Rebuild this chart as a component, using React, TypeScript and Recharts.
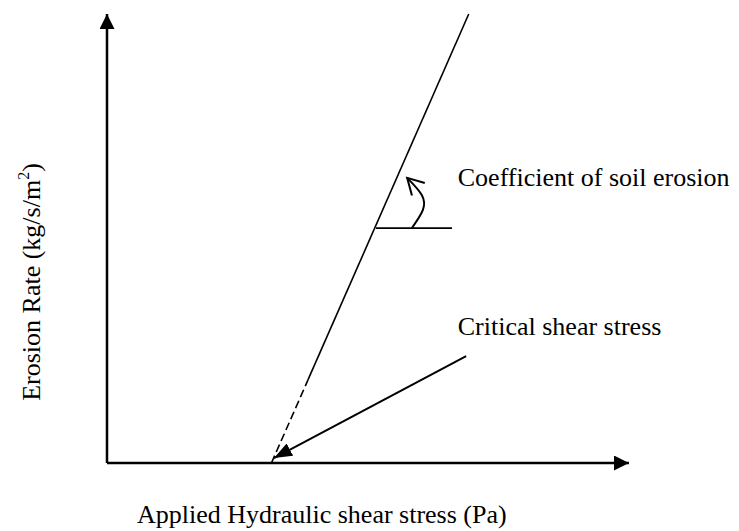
import { LineChart, Line, XAxis, YAxis, ReferenceDot } from "recharts";

const FONT = '"Liberation Serif", "Times New Roman", serif';
const INK = "#000000";

// schematic units: applied shear stress (x) against erosion rate (y)
const AXIS_X = [{ x: 0, y: 0 }, { x: 10, y: 0 }];
const AXIS_Y = [{ x: 0, y: 0 }, { x: 0, y: 10 }];
const EXTRAPOLATED = [{ x: 3.15, y: 0 }, { x: 3.85, y: 1.85 }];
const MEASURED = [{ x: 3.85, y: 1.85 }, { x: 6.93, y: 10 }];
const SLOPE_BASE = [{ x: 5.15, y: 5.23 }, { x: 6.61, y: 5.23 }];
const SLOPE_ARC = [
  { x: 5.84, y: 5.23 },
  { x: 6.05, y: 5.63 },
  { x: 6.03, y: 5.97 },
  { x: 5.75, y: 6.35 },
];
const CRITICAL_POINTER = [{ x: 6.88, y: 2.38 }, { x: 3.2, y: 0.11 }];
const NOTES = [
  { x: 6.72, y: 6.17, text: "Coefficient of soil erosion" },
  { x: 6.72, y: 2.85, text: "Critical shear stress" },
];
const X_TITLE = "Applied Hydraulic shear stress (Pa)";
const Y_TITLE = "Erosion Rate (kg/s/m";

function NoteText(props: any) {
  const { cx, cy, text } = props;
  return (
    <text x={cx} y={cy} fontFamily={FONT} fontSize={26} fill={INK}>
      {text}
    </text>
  );
}

function XTitle(props: any) {
  const vb = props.viewBox;
  return (
    <text x={vb.x + 30} y={vb.y + 60} fontFamily={FONT} fontSize={26} fill={INK}>
      {X_TITLE}
    </text>
  );
}

function YTitle(props: any) {
  const vb = props.viewBox;
  const cx = vb.x + 40;
  const cy = vb.y + 268;
  return (
    <text
      x={cx}
      y={cy}
      transform={`rotate(-90 ${cx} ${cy})`}
      textAnchor="middle"
      fontFamily={FONT}
      fontSize={26}
      fill={INK}
    >
      {Y_TITLE}
      <tspan dy={-11} fontSize={16}>2</tspan>
      <tspan dy={11}>)</tspan>
    </text>
  );
}

const lineProps = {
  dataKey: "y",
  stroke: INK,
  dot: false,
  activeDot: false,
  isAnimationActive: false,
  legendType: "none" as const,
};

export default function App() {
  return (
    <div style={{ position: "absolute", left: 0, top: 0, background: "#fff" }}>
      <svg width={0} height={0} style={{ position: "absolute" }}>
        <defs>
          <marker
            id="axisHead"
            viewBox="0 0 15 15"
            refX={15}
            refY={7.5}
            markerWidth={15}
            markerHeight={15}
            markerUnits="userSpaceOnUse"
            orient="auto"
          >
            <path d="M0,0 L15,7.5 L0,15 Z" fill={INK} />
          </marker>
          <marker
            id="pointerHead"
            viewBox="0 0 18 14"
            refX={18}
            refY={7}
            markerWidth={18}
            markerHeight={14}
            markerUnits="userSpaceOnUse"
            orient="auto"
          >
            <path d="M0,0 L18,7 L0,14 Z" fill={INK} />
          </marker>
          <marker
            id="openHead"
            viewBox="-2 -2 22 24"
            refX={16}
            refY={9}
            markerWidth={22}
            markerHeight={24}
            markerUnits="userSpaceOnUse"
            orient="auto"
          >
            <path d="M0,0 L16,9 L0,18" fill="none" stroke={INK} strokeWidth={2} />
          </marker>
        </defs>
      </svg>
      <LineChart width={739} height={531} margin={{ top: 14, right: 110, bottom: 0, left: 0 }}>
        <XAxis
          type="number"
          dataKey="x"
          domain={[0, 10]}
          height={68}
          axisLine={false}
          tick={false}
          tickLine={false}
          label={{ content: (p: any) => <XTitle {...p} /> }}
        />
        <YAxis
          type="number"
          dataKey="y"
          domain={[0, 10]}
          width={107}
          axisLine={false}
          tick={false}
          tickLine={false}
          label={{ content: (p: any) => <YTitle {...p} /> }}
        />
        <Line {...lineProps} data={AXIS_X} strokeWidth={2.5} markerEnd="url(#axisHead)" />
        <Line {...lineProps} data={AXIS_Y} strokeWidth={2.5} markerEnd="url(#axisHead)" />
        <Line {...lineProps} data={EXTRAPOLATED} strokeWidth={1.6} strokeDasharray="8 4" />
        <Line {...lineProps} data={MEASURED} strokeWidth={1.6} />
        <Line {...lineProps} data={SLOPE_BASE} strokeWidth={1.6} />
        <Line {...lineProps} data={SLOPE_ARC} type="natural" strokeWidth={2} markerEnd="url(#openHead)" />
        <Line {...lineProps} data={CRITICAL_POINTER} strokeWidth={2} markerEnd="url(#pointerHead)" />
        {NOTES.map((n) => (
          <ReferenceDot
            key={n.text}
            x={n.x}
            y={n.y}
            r={0}
            ifOverflow="visible"
            shape={(p: any) => <NoteText {...p} text={n.text} />}
          />
        ))}
      </LineChart>
    </div>
  );
}
